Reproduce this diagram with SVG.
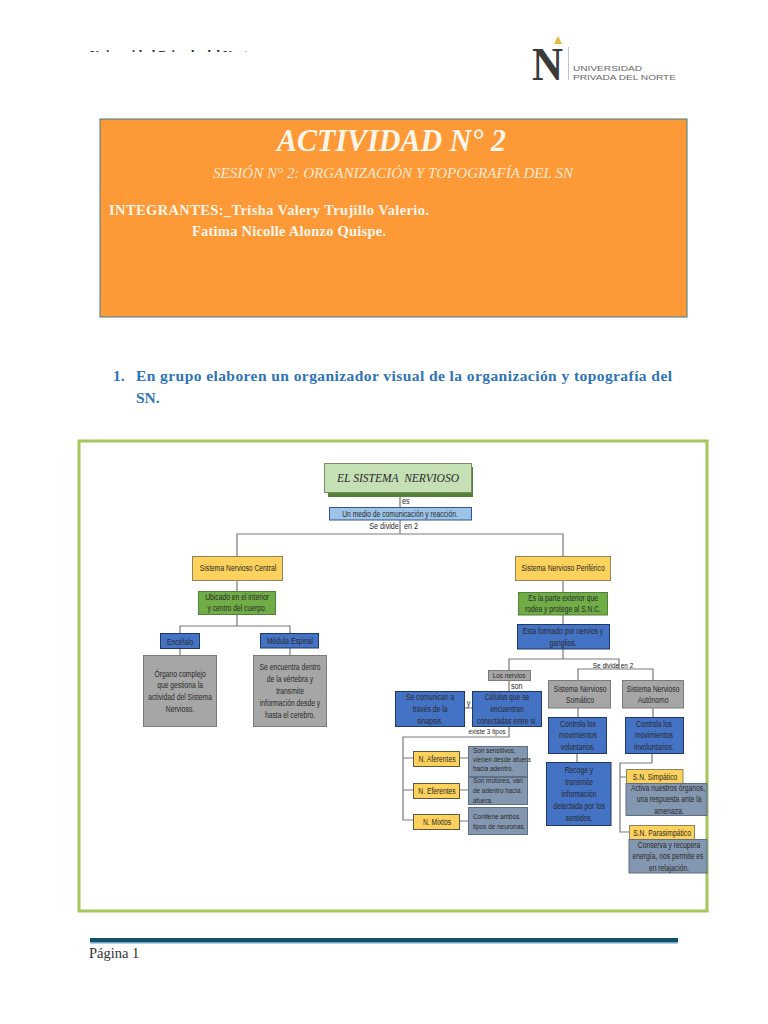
<svg xmlns="http://www.w3.org/2000/svg" width="768" height="1024" viewBox="0 0 768 1024">
<style>
text{font-family:"Liberation Sans",Arial,sans-serif;fill:#2a2a2a;text-anchor:middle}
.s{font-family:"Liberation Serif","Times New Roman",serif}
.l{text-anchor:start}
.n,.t,.x{transform-box:fill-box;transform-origin:center}
.l.n,.l.x{transform-origin:left center}
.n{font-size:8.500px;transform:scaleX(.85)}
.t{font-size:9px;transform:scaleX(.75)}
.x{font-size:7.500px;transform:scaleX(.85)}
.c{fill:none;stroke:#7a7a7a;stroke-width:1.2}
.y{fill:#fdd25c;stroke:#8f8460}
.yd{fill:#fdd25c;stroke:#5c5a3c}
.g{fill:#70ad47;stroke:#54803a}
.b{fill:#4472c4;stroke:#1f3864}
.gr{fill:#a6a6a6;stroke:#7a7a7a}
.gb{fill:#8497b0;stroke:#5f6f85}
</style>
<defs><clipPath id="hc"><rect x="85" y="47" width="170" height="5"/></clipPath></defs>
<rect width="768" height="1024" fill="#fff"/>
<g id="header">
<text class="s l" x="90" y="59" font-size="12.5" font-weight="bold" clip-path="url(#hc)" fill="#333">Universidad Privada del Norte</text>
<polygon points="558,36 554,44 562,44" fill="#e5b93c"/>
<text class="s l" x="532" y="80" font-size="47" font-weight="bold" style="fill:#3a3a3a" textLength="31" lengthAdjust="spacingAndGlyphs">N</text>
<rect x="568" y="47" width="1" height="33" fill="#c4c4c4"/>
<text class="l" x="573" y="70.500" font-size="8" style="fill:#666" textLength="69" lengthAdjust="spacingAndGlyphs">UNIVERSIDAD</text>
<text class="l" x="573" y="79.500" font-size="8" style="fill:#666" textLength="103" lengthAdjust="spacingAndGlyphs">PRIVADA DEL NORTE</text>
</g>
<g id="banner">
<rect x="100" y="119" width="587" height="198" fill="#fd9a37" stroke="#3f7f8c"/>
<text class="s l" x="277" y="151" font-size="31" font-style="italic" font-weight="bold" textLength="229" lengthAdjust="spacingAndGlyphs" style="fill:#fff5e8">ACTIVIDAD N° 2</text>
<text class="s l" x="213" y="178" font-size="14" font-style="italic" textLength="360" lengthAdjust="spacingAndGlyphs" style="fill:#fde8cf">SESIÓN N° 2: ORGANIZACIÓN Y TOPOGRAFÍA DEL SN</text>
<text class="s l" x="109" y="215" font-size="14.500" font-weight="bold" textLength="320" style="fill:#fff5e8">INTEGRANTES:_Trisha Valery Trujillo Valerio.</text>
<text class="s l" x="192" y="236" font-size="14.500" font-weight="bold" textLength="194" style="fill:#fff5e8">Fatima Nicolle Alonzo Quispe.</text>
</g>
<g id="question" font-size="15.5" font-weight="bold">
<text class="s l" x="113" y="381" style="fill:#2e74b5">1.</text>
<text class="s l" x="136" y="381" style="fill:#2e74b5" textLength="536">En grupo elaboren  un organizador visual de la organización y topografía del</text>
<text class="s l" x="136" y="403" style="fill:#2e74b5">SN.</text>
</g>
<rect id="frame" x="79" y="441" width="628" height="470" fill="#fff" stroke="#a4c65a" stroke-width="3"/>
<g id="connectors" class="c">
<path d="M400 493V534M237 556V534H563V556M563 581V592M563 615V624M563 649V659"/>
<path d="M237 581V591M237 615V626M180 633V626H290V633M180 649V655M290 648V655"/>
<path d="M509 670V659H619V669M578 680V669H653V680M578 708V717M653 708V717M577 753V762"/>
<path d="M509 680V691M465 708H472M509 726V737H403V820H413M403 758H413M403 790H413M460 758H468M460 790H468M460 821H468"/>
<path d="M652 753V763H620V832H629M620 777H626"/>
</g>
<g id="n-title"><rect x="328" y="467" width="145" height="30" fill="#548235"/><rect x="324.500" y="463.500" width="147" height="29" fill="#c5e0b4" stroke="#7a8a6a"/>
<text class="s l" x="337" y="482" font-size="12.500" font-style="italic" textLength="122" lengthAdjust="spacingAndGlyphs" xml:space="preserve">EL SISTEMA  NERVIOSO</text></g>
<text class="n l" x="402" y="504">es</text>
<g id="n-medio"><rect x="329.500" y="507.500" width="142" height="12.500" fill="#9dc3e6" stroke="#2f5597"/><text class="t" x="400" y="517">Un medio de comunicación y reacción.</text></g>
<text class="n" x="384" y="529">Se divide</text><text class="n" x="411" y="529">en 2</text>
<g id="n-central"><rect x="192.500" y="556.500" width="90" height="24" class="y"/><text class="t" x="238" y="571">Sistema Nervioso Central</text></g>
<g id="n-ubicado"><rect x="198.500" y="591.500" width="77" height="23" class="g"/><text class="t" x="237" y="600">Ubicado en el interior</text><text class="t" x="237" y="611">y centro del cuerpo.</text></g>
<g id="n-encefalo"><rect x="160.500" y="633.500" width="39" height="15" class="b"/><text class="t" x="180" y="645">Encéfalo</text></g>
<g id="n-medula"><rect x="260.500" y="633.500" width="58" height="14.500" class="b"/><text class="t" x="290" y="644">Médula Espinal</text></g>
<g id="n-organo"><rect x="143.500" y="655.500" width="73" height="71" class="gr"/><text class="t" x="180" y="677">Órgano complejo</text><text class="t" x="180" y="688">que gestiona la</text><text class="t" x="180" y="700">actividad del Sistema</text><text class="t" x="180" y="712">Nervioso.</text></g>
<g id="n-encuentra"><rect x="253.500" y="655.500" width="73" height="71" class="gr"/><text class="t" x="290" y="670">Se encuentra dentro</text><text class="t" x="290" y="682">de la vértebra y</text><text class="t" x="290" y="694">transmite</text><text class="t" x="290" y="706">información desde y</text><text class="t" x="290" y="718">hasta el cerebro.</text></g>
<g id="n-periferico"><rect x="515.500" y="556.500" width="95" height="24" class="y"/><text class="t" x="563" y="571">Sistema Nervioso Periférico</text></g>
<g id="n-exterior"><rect x="518.500" y="592.500" width="89" height="22.500" class="g"/><text class="t" x="563" y="601">Es la parte exterior que</text><text class="t" x="563" y="612">rodea y protege al S.N.C.</text></g>
<g id="n-formado"><rect x="517.500" y="624.500" width="92" height="24.500" class="b"/><text class="t" x="563" y="634">Esta formado por nervios y</text><text class="t" x="563" y="646">ganglios.</text></g>
<text class="x" x="613" y="668" style="fill:#111">Se divide en 2</text>
<g id="n-nervios"><rect x="488.500" y="670.500" width="42" height="10" class="gr"/><text class="x" x="509" y="678.500">Los nervios</text></g>
<text class="n l" x="511" y="689">son</text>
<g id="n-sinapsis"><rect x="395.500" y="691.500" width="69" height="35" class="b"/><text class="t" x="430" y="700">Se comunican a</text><text class="t" x="430" y="712">través de la</text><text class="t" x="430" y="724">sinapsis.</text></g>
<text class="n" x="468.500" y="706">y</text>
<g id="n-celulas"><rect x="472.500" y="691.500" width="69" height="35" class="b"/><text class="t" x="507" y="700">Células que se</text><text class="t" x="507" y="712">encuentran</text><text class="t" x="507" y="724">conectadas entre si.</text></g>
<text class="x" x="487" y="734">existe 3 tipos</text>
<g id="n-aferentes"><rect x="413.500" y="751.500" width="46" height="15" class="yd"/><text class="t" x="437" y="762">N. Aferentes</text></g>
<g id="n-eferentes"><rect x="413.500" y="783.500" width="46" height="15" class="yd"/><text class="t" x="437" y="794">N. Eferentes</text></g>
<g id="n-mixtos"><rect x="413.500" y="814.500" width="46" height="15" class="yd"/><text class="t" x="437" y="825">N. Mixtos</text></g>
<g id="n-sensitivos"><rect x="468.500" y="746.500" width="59" height="30" class="gb"/><text class="x l" x="473" y="753">Son sensitivos,</text><text class="x l" x="473" y="762">vienen desde afuera</text><text class="x l" x="473" y="771">hacia adentro.</text></g>
<g id="n-motores"><rect x="468.500" y="777.500" width="59" height="27" class="gb"/><text class="x l" x="473" y="783">Son motores, van</text><text class="x l" x="473" y="793">de adentro hacia</text><text class="x l" x="473" y="803">afuera.</text></g>
<g id="n-ambos"><rect x="468.500" y="807.500" width="59" height="27" class="gb"/><text class="x l" x="473" y="819">Contiene ambos</text><text class="x l" x="473" y="829">tipos de neuronas.</text></g>
<g id="n-somatico"><rect x="548.500" y="680.500" width="62" height="27.500" class="gr"/><text class="t" x="580" y="692">Sistema Nervioso</text><text class="t" x="580" y="703">Somático</text></g>
<g id="n-autonomo"><rect x="622.500" y="680.500" width="61" height="27.500" class="gr"/><text class="t" x="653" y="692">Sistema Nervioso</text><text class="t" x="653" y="703">Autónomo</text></g>
<g id="n-voluntarios"><rect x="548.500" y="717.500" width="58" height="36" class="b"/><text class="t" x="578" y="727">Controla los</text><text class="t" x="578" y="738">movimientos</text><text class="t" x="578" y="750">voluntarios.</text></g>
<g id="n-involuntarios"><rect x="625.500" y="717.500" width="58" height="36" class="b"/><text class="t" x="654" y="727">Controla los</text><text class="t" x="654" y="738">movimientos</text><text class="t" x="654" y="750">involuntarios.</text></g>
<g id="n-recoge"><rect x="546.500" y="762.500" width="64.500" height="63" class="b"/><text class="t" x="579" y="773">Recoge y</text><text class="t" x="579" y="785">transmite</text><text class="t" x="579" y="797">información</text><text class="t" x="579" y="809">detectada por los</text><text class="t" x="579" y="821">sentidos.</text></g>
<g id="n-simpatico"><rect x="626.500" y="769.500" width="56.500" height="14" class="y"/><text class="t" x="655" y="780">S.N. Simpático</text></g>
<g id="n-activa"><rect x="626" y="783.500" width="81" height="32" class="gb"/><text class="t" x="668" y="791">Activa nuestros órganos,</text><text class="t" x="669" y="802">una respuesta ante la</text><text class="t" x="669" y="814">amenaza.</text></g>
<g id="n-parasimpatico"><rect x="629.500" y="825.500" width="65" height="14" class="y"/><text class="t" x="662" y="836">S.N. Parasimpático</text></g>
<g id="n-conserva"><rect x="629" y="839.500" width="78" height="33.500" class="gb"/><text class="t" x="669" y="848">Conserva y recupera</text><text class="t" x="668" y="859">energía, nos permite es</text><text class="t" x="669" y="871">en relajación.</text></g>
<g id="footer">
<rect x="90" y="938" width="588" height="4" fill="#14506e"/><rect x="90" y="942" width="588" height="1.500" fill="#6aa5c0"/>
<text class="s l" x="89" y="958" font-size="14.500" style="fill:#333">Página 1</text>
</g>
</svg>
